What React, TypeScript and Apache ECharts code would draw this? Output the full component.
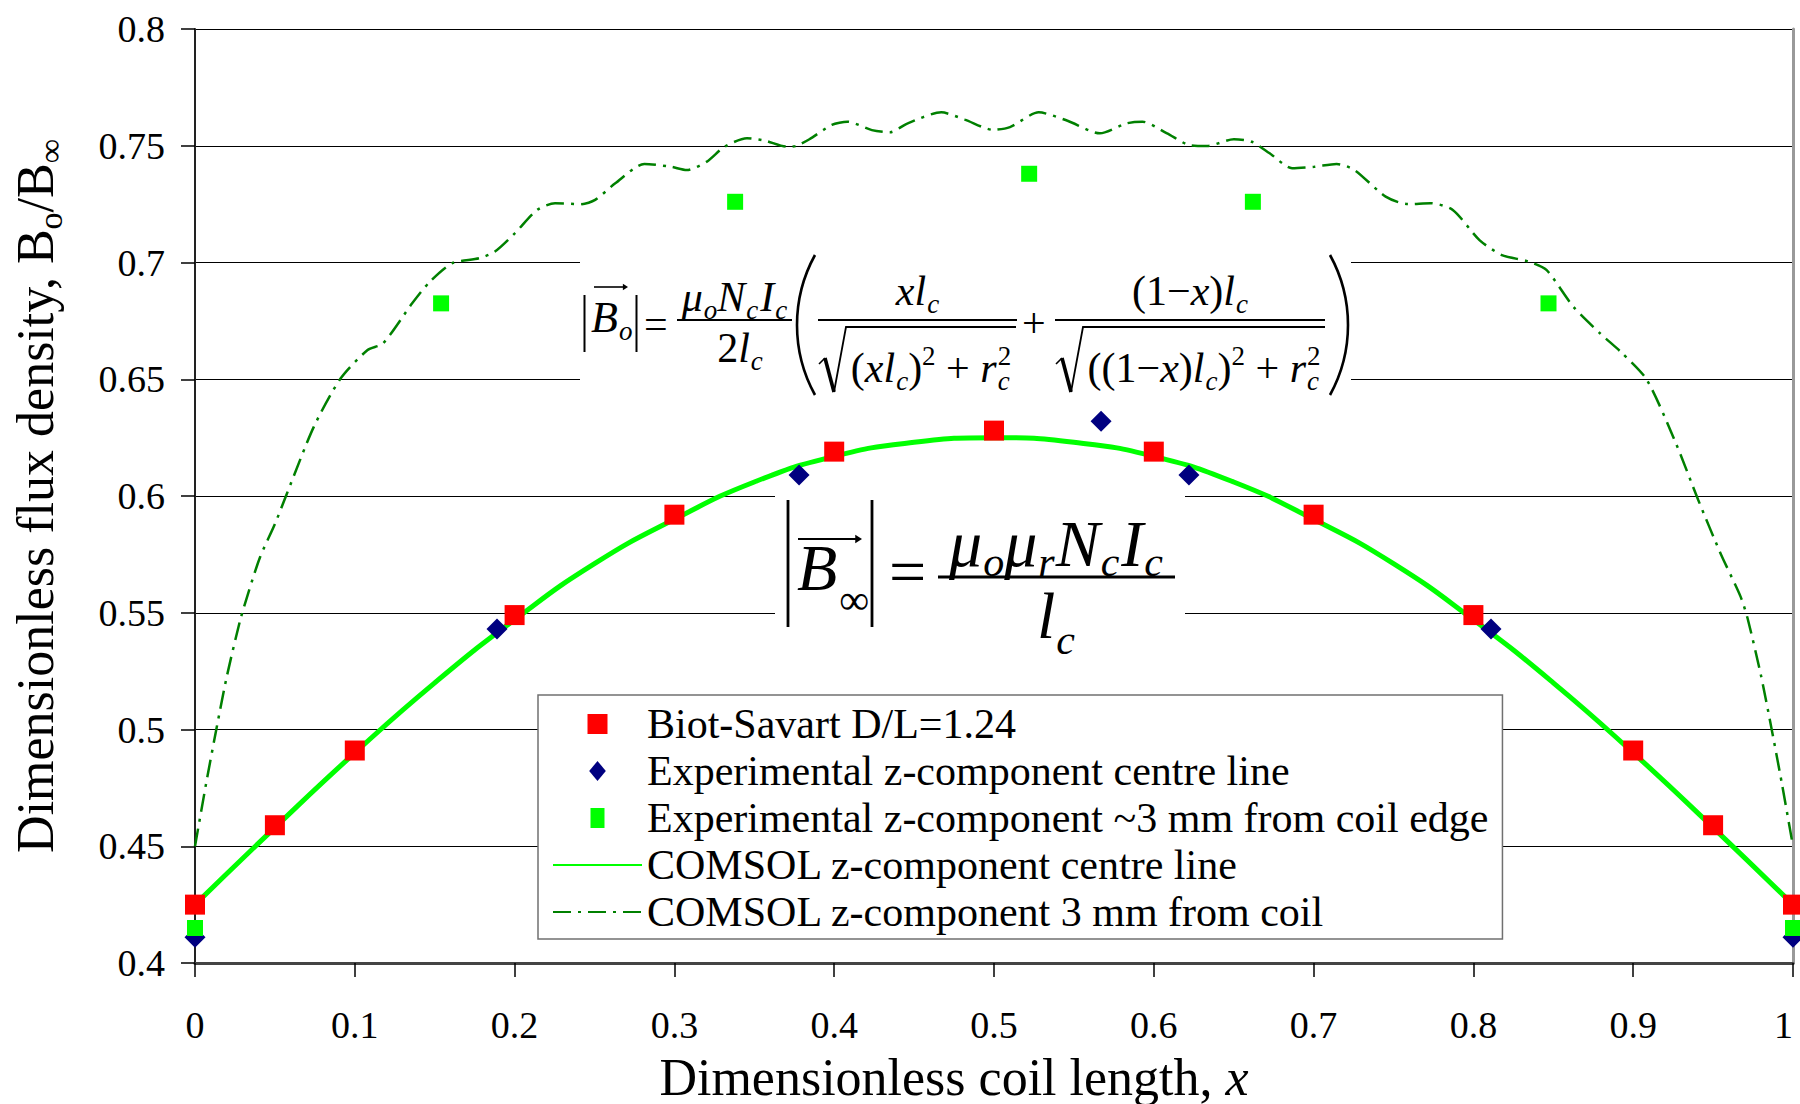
import React, { useEffect, useRef } from 'react';
import * as echarts from 'echarts';

const FONT = '"Liberation Serif", "Times New Roman", Times, serif';

// Series names
const S_BIOT = 'Biot-Savart D/L=1.24';
const S_EXP_CENTRE = 'Experimental z-component centre line';
const S_EXP_EDGE = 'Experimental z-component ~3 mm from coil edge';
const S_COMSOL_CENTRE = 'COMSOL z-component centre line';
const S_COMSOL_EDGE = 'COMSOL z-component 3 mm from coil';

// Biot-Savart prediction
const biotX = [0, 0.05, 0.1, 0.2, 0.3, 0.4, 0.5, 0.6, 0.7, 0.8, 0.9, 0.95, 1];
const biotY = [0.425, 0.459, 0.491, 0.549, 0.592, 0.619, 0.628, 0.619, 0.592, 0.549, 0.491, 0.459, 0.425];

// Measured, centre line
const expCentreX = [0, 0.189, 0.378, 0.567, 0.622, 0.811, 1];
const expCentreY = [0.411, 0.543, 0.609, 0.632, 0.609, 0.543, 0.411];

// Measured, ~3 mm from the coil edge
const expEdgeX = [0, 0.154, 0.338, 0.522, 0.662, 0.847, 1];
const expEdgeY = [0.415, 0.6825, 0.726, 0.738, 0.726, 0.6825, 0.415];

// COMSOL, centre line
const comsolCentreX = [0, 0.05, 0.1, 0.15, 0.2, 0.25, 0.3, 0.35, 0.4, 0.45, 0.5, 0.55, 0.6, 0.65, 0.7, 0.75, 0.8, 0.85, 0.9, 0.95, 1];
const comsolCentreY = [0.425, 0.458, 0.49, 0.52, 0.547, 0.571, 0.59, 0.606, 0.617, 0.623, 0.625, 0.623, 0.617, 0.606, 0.59, 0.571, 0.547, 0.52, 0.49, 0.458, 0.425];

// COMSOL, 3 mm from the coil
const comsolEdgeX = [
  0, 0.007, 0.0136, 0.02, 0.0282, 0.0339, 0.0407, 0.05, 0.0576, 0.0744, 0.0912, 0.108, 0.1177, 0.1359, 0.147,
  0.161, 0.1778, 0.1875, 0.2001, 0.2141, 0.2253, 0.242, 0.2504, 0.263, 0.2812, 0.2979, 0.3077, 0.3203, 0.3314,
  0.3454, 0.3566, 0.3705, 0.3761, 0.3845, 0.3985, 0.4082, 0.4236, 0.435, 0.4457, 0.467, 0.4817, 0.4996, 0.51,
  0.528, 0.546, 0.5663, 0.5831, 0.5929, 0.6083, 0.6222, 0.6334, 0.6501, 0.6613, 0.6725, 0.6865, 0.7004, 0.7144,
  0.7256, 0.7451, 0.7591, 0.7731, 0.7871, 0.8038, 0.8178, 0.8345, 0.8457, 0.8625, 0.8792, 0.8932, 0.9086, 0.9267,
  0.9407, 0.9546, 0.9672, 0.9718, 0.98, 0.9864, 0.993, 1,
];
const comsolEdgeY = [
  0.45, 0.477, 0.501, 0.523, 0.5466, 0.5597, 0.5738, 0.588, 0.6012, 0.6297, 0.6504, 0.6625, 0.6654, 0.6825, 0.6918,
  0.6997, 0.7018, 0.7046, 0.7125, 0.7225, 0.7254, 0.725, 0.7268, 0.7339, 0.7422, 0.741, 0.7396, 0.7432, 0.7496,
  0.7532, 0.7522, 0.7496, 0.7499, 0.7528, 0.7589, 0.7603, 0.7567, 0.7558, 0.7595, 0.7643, 0.7612, 0.7568, 0.758,
  0.7643, 0.7607, 0.7553, 0.7596, 0.7603, 0.7553, 0.7503, 0.7499, 0.7528, 0.7517, 0.7468, 0.7404, 0.741, 0.7422,
  0.7396, 0.7282, 0.725, 0.7254, 0.7225, 0.7096, 0.7032, 0.7004, 0.6968, 0.6811, 0.6697, 0.6611, 0.6497, 0.6226,
  0.5983, 0.5755, 0.5569, 0.547, 0.523, 0.501, 0.477, 0.45,
];

const pairs = (xs: number[], ys: number[]) => xs.map((x, i) => [x, ys[i]]);

// token: text, font size, italic, baseline shift, stacked (no advance), extra space after
type Tok = [string, number, boolean, number, boolean?, number?];

export default function App() {
  const ref = useRef<HTMLDivElement>(null);

  useEffect(() => {
    const chart = echarts.init(ref.current!, null, { renderer: 'svg' });

    const ctx = document.createElement('canvas').getContext('2d')!;
    const measure = (s: string, size: number, italic: boolean) => {
      ctx.font = `${italic ? 'italic ' : ''}${size}px "Liberation Serif"`;
      return ctx.measureText(s).width;
    };
    const CENTRAL = 0.3375;

    const row = (toks: Tok[], x: number, base: number, anchor: 'left' | 'center') => {
      let cur = 0;
      let maxX = 0;
      const placed: any[] = [];
      toks.forEach(([s, size, it, dy, stack, gap]) => {
        const w = measure(s, size, it);
        placed.push({ s, size, it, dy, x: cur });
        maxX = Math.max(maxX, cur + w);
        if (!stack) cur += w + (gap || 0);
      });
      const x0 = anchor === 'center' ? x - maxX / 2 : x;
      return placed.map((p) => ({
        type: 'text',
        z: 30,
        x: x0 + p.x,
        y: base + p.dy - CENTRAL * p.size,
        style: {
          text: p.s,
          fill: '#000',
          fontFamily: FONT,
          fontSize: p.size,
          fontStyle: p.it ? 'italic' : 'normal',
          align: 'left',
          verticalAlign: 'middle',
          textAlign: 'left',
          textVerticalAlign: 'middle',
        },
      }));
    };
    const seg = (x1: number, y1: number, x2: number, y2: number, w = 2) => ({
      type: 'line', z: 30, shape: { x1, y1, x2, y2 }, style: { stroke: '#000', lineWidth: w },
    });
    const poly = (points: number[][], w = 2) => ({
      type: 'polyline', z: 30, shape: { points }, style: { stroke: '#000', lineWidth: w, fill: null },
    });
    const arrowHead = (x: number, y: number, s: number) => ({
      type: 'polygon', z: 30, shape: { points: [[x - 1.6 * s, y - s], [x, y], [x - 1.6 * s, y + s]] }, style: { fill: '#000' },
    });
    const paren = (xEdge: number, top: number, bottom: number, bulge: number, left: boolean) => {
      const h = (bottom - top) / 2;
      const r = (h * h + bulge * bulge) / (2 * bulge);
      const a = Math.asin(h / r);
      const cy = (top + bottom) / 2;
      return left
        ? { type: 'arc', z: 30, shape: { cx: xEdge + r, cy, r, startAngle: Math.PI - a, endAngle: Math.PI + a }, style: { stroke: '#000', lineWidth: 2.6, fill: null } }
        : { type: 'arc', z: 30, shape: { cx: xEdge - r, cy, r, startAngle: -a, endAngle: a }, style: { stroke: '#000', lineWidth: 2.6, fill: null } };
    };
    const radical = (x: number, top: number, bottom: number, end: number) => [
      poly([[x, bottom - 28], [x + 6, bottom - 34]], 1.6),
      seg(x + 6, bottom - 34, x + 15, bottom, 3.6),
      poly([[x + 15, bottom], [x + 27, top], [end, top]], 1.8),
    ];

    const M = 42;
    const SB = 27;
    const SUB = 8;
    const SUP = -17;

    // finite-coil expression
    const formulaA: any[] = [
      { type: 'rect', z: 1, shape: { x: 580, y: 250, width: 771, height: 150 }, style: { fill: '#fff' } },
      seg(584.5, 295, 584.5, 352, 2),
      seg(636.5, 295, 636.5, 352, 2),
      seg(594, 287, 623, 287, 1.6),
      arrowHead(628, 287, 3.2),
      ...row([['B', 44, true, 0, false, 1], ['o', SB, true, SUB]], 591, 332, 'left'),
      ...row([['=', M, false, 0]], 644, 338, 'left'),
      ...row([['μ', M, true, 0, false, 1], ['o', SB, true, SUB], ['N', M, true, 0, false, 1], ['c', SB, true, SUB, false, 2], ['I', M, true, 0, false, 1], ['c', SB, true, SUB]], 734.5, 311, 'center'),
      seg(677, 320, 792, 320, 2),
      ...row([['2', M, false, 0], ['l', M, true, 0, false, 1], ['c', SB, true, SUB]], 740, 362, 'center'),
      paren(797, 255, 395, 18, true),
      ...row([['x', M, true, 0], ['l', M, true, 0, false, 1], ['c', SB, true, SUB]], 917.5, 305, 'center'),
      seg(818, 320, 1017, 320, 2),
      ...radical(819, 327, 392, 1016),
      ...row([
        ['(', M, false, 0], ['x', M, true, 0], ['l', M, true, 0, false, 1], ['c', SB, true, SUB], [')', M, false, 0], ['2', SB, false, SUP],
        [' + ', M, false, 0], ['r', M, true, 0, false, 1], ['c', SB, true, SUB, true], ['2', SB, false, SUP],
      ], 931, 382, 'center'),
      ...row([['+', M, false, 0]], 1022, 337, 'left'),
      ...row([['(', M, false, 0], ['1', M, false, 0], ['−', M, false, 0], ['x', M, true, 0], [')', M, false, 0], ['l', M, true, 0, false, 1], ['c', SB, true, SUB]], 1190, 305, 'center'),
      seg(1055, 320, 1325, 320, 2),
      ...radical(1056, 327, 392, 1325),
      ...row([
        ['((', M, false, 0], ['1', M, false, 0], ['−', M, false, 0], ['x', M, true, 0], [')', M, false, 0], ['l', M, true, 0, false, 1], ['c', SB, true, SUB], [')', M, false, 0], ['2', SB, false, SUP],
        [' + ', M, false, 0], ['r', M, true, 0, false, 1], ['c', SB, true, SUB, true], ['2', SB, false, SUP],
      ], 1204, 382, 'center'),
      paren(1348, 255, 395, 18, false),
    ];

    const L = 66;
    const LS = 42;
    // infinite-solenoid expression
    const formulaB: any[] = [
      { type: 'rect', z: 1, shape: { x: 775, y: 486, width: 410, height: 184 }, style: { fill: '#fff' } },
      seg(788, 500, 788, 627, 2.8),
      seg(872, 500, 872, 627, 2.8),
      seg(798, 539, 856, 539, 2),
      arrowHead(862, 539, 4.2),
      ...row([['B', L, true, 0, false, 2], ['∞', LS, false, 24]], 797, 590, 'left'),
      ...row([['=', L, false, 0]], 889, 594, 'left'),
      ...row([['μ', L, true, 0, false, 1], ['o', LS, true, 10], ['μ', L, true, 0, false, 1], ['r', LS, true, 10, false, 1], ['N', L, true, 0, false, 1], ['c', LS, true, 10, false, 2], ['I', L, true, 0, false, 1], ['c', LS, true, 10]], 1056, 566, 'center'),
      seg(938, 577, 1175, 577, 3),
      ...row([['l', L, true, 0, false, 1], ['c', LS, true, 16]], 1056, 638, 'center'),
    ];

    const fmtY = (v: number) => String(+v.toFixed(2));
    const fmtX = (v: number) => String(+v.toFixed(1));

    chart.setOption({
      animation: false,
      backgroundColor: '#fff',
      grid: { left: 195, right: 7, top: 29, bottom: 141, containLabel: false, outerBoundsMode: 'none' },
      legend: {
        orient: 'vertical',
        left: 538,
        top: 695,
        z: 10,
        itemWidth: 89,
        itemHeight: 20,
        itemGap: 5,
        itemTextGap: 13,
        padding: [8, 14, 6, 14],
        backgroundColor: '#fff',
        borderColor: '#707070',
        borderWidth: 1.5,
        borderRadius: 0,
        selectedMode: false,
        textStyle: { fontFamily: FONT, fontSize: 42, color: '#000' },
        data: [
          { name: S_BIOT, icon: 'path://M0 0H20V20H0Z' },
          { name: S_EXP_CENTRE, icon: 'path://M10 0L20 12L10 24L0 12Z' },
          { name: S_EXP_EDGE, icon: 'path://M0 0H14V20H0Z' },
          { name: S_COMSOL_CENTRE },
          { name: S_COMSOL_EDGE },
        ],
      },
      xAxis: {
        type: 'value',
        min: 0,
        max: 1,
        interval: 0.1,
        name: 'Dimensionless coil length, {i|x}',
        nameLocation: 'middle',
        nameGap: 88,
        nameTextStyle: {
          fontFamily: FONT, fontSize: 52, color: '#000', padding: [0, 80, 0, 0],
          rich: { i: { fontFamily: FONT, fontSize: 52, fontStyle: 'italic', color: '#000' } },
        },
        axisLine: { show: true, onZero: false, lineStyle: { color: '#444', width: 3 } },
        axisTick: { show: true, length: 14, lineStyle: { color: '#000', width: 1.5 } },
        axisLabel: { fontFamily: FONT, fontSize: 38, color: '#000', margin: 43, formatter: fmtX, alignMaxLabel: 'right' },
        splitLine: { show: false },
      },
      yAxis: [
        {
          type: 'value',
          min: 0.4,
          max: 0.8,
          interval: 0.05,
          name: 'Dimensionless flux density, B{s|o}/B{s|∞}',
          nameLocation: 'middle',
          nameRotate: 90,
          nameGap: 128,
          nameTextStyle: {
            fontFamily: FONT, fontSize: 52, color: '#000',
            rich: { s: { fontFamily: FONT, fontSize: 34, color: '#000', padding: [30, 0, 0, 0] } },
          },
          axisLine: { show: true, onZero: false, lineStyle: { color: '#222', width: 2 } },
          axisTick: { show: true, length: 14, lineStyle: { color: '#000', width: 1.5 } },
          axisLabel: { fontFamily: FONT, fontSize: 38, color: '#000', margin: 30, formatter: fmtY },
          splitLine: { show: true, lineStyle: { color: '#000', width: 1.2 } },
        },
        {
          type: 'value',
          min: 0.4,
          max: 0.8,
          interval: 0.05,
          position: 'right',
          axisLine: { show: true, onZero: false, lineStyle: { color: '#999', width: 3 } },
          axisTick: { show: false },
          axisLabel: { show: false },
          splitLine: { show: false },
        },
      ],
      graphic: [...formulaA, ...formulaB],
      series: [
        {
          name: S_COMSOL_CENTRE,
          type: 'line',
          z: 2,
          smooth: true,
          symbol: 'none',
          data: pairs(comsolCentreX, comsolCentreY),
          lineStyle: { color: '#00ff00', width: 5 },
          itemStyle: { color: 'rgba(0,0,0,0)' },
        },
        {
          name: S_COMSOL_EDGE,
          type: 'line',
          z: 2,
          smooth: 0.25,
          symbol: 'none',
          data: pairs(comsolEdgeX, comsolEdgeY),
          lineStyle: { color: '#008000', width: 2.5, type: [18, 7, 3, 7] },
          itemStyle: { color: 'rgba(0,0,0,0)' },
        },
        {
          name: S_EXP_CENTRE,
          type: 'scatter',
          z: 3,
          symbol: 'diamond',
          symbolSize: 21,
          data: pairs(expCentreX, expCentreY),
          itemStyle: { color: '#000080', opacity: 1 },
        },
        {
          name: S_EXP_EDGE,
          type: 'scatter',
          z: 4,
          symbol: 'rect',
          symbolSize: 16,
          data: pairs(expEdgeX, expEdgeY),
          itemStyle: { color: '#00ff00', opacity: 1 },
        },
        {
          name: S_BIOT,
          type: 'scatter',
          z: 5,
          symbol: 'rect',
          symbolSize: 20,
          data: pairs(biotX, biotY),
          itemStyle: { color: '#ff0000', opacity: 1 },
        },
      ],
    });

    return () => chart.dispose();
  }, []);

  return (
    <div
      ref={ref}
      style={{ position: 'fixed', left: 0, top: 0, width: 1800, height: 1104, background: '#fff' }}
    />
  );
}
